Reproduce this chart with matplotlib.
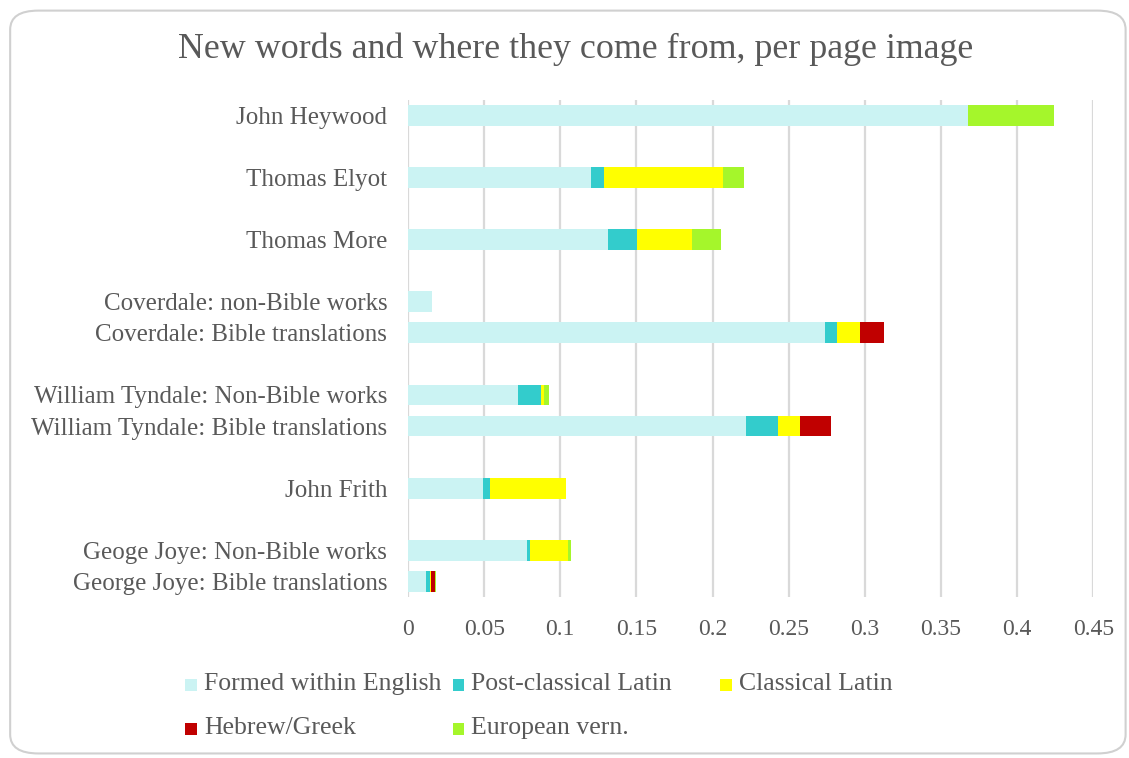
import matplotlib
matplotlib.use("Agg")
import matplotlib.pyplot as plt
from matplotlib.patches import FancyBboxPatch, Rectangle
import numpy as np

# blank entries keep the spacing between author groups
authors = [
    "John Heywood", "",
    "Thomas Elyot", "",
    "Thomas More", "",
    "Coverdale: non-Bible works", "Coverdale: Bible translations", "",
    "William Tyndale: Non-Bible works", "William Tyndale: Bible translations", "",
    "John Frith", "",
    "Geoge Joye: Non-Bible works", "George Joye: Bible translations",
]
formed_english = [0.368, 0, 0.120, 0, 0.131, 0, 0.016, 0.274, 0, 0.0723, 0.222, 0, 0.049, 0, 0.078, 0.0119]
post_classical = [0, 0, 0.0086, 0, 0.0194, 0, 0, 0.0077, 0, 0.0151, 0.021, 0, 0.005, 0, 0.0022, 0.0024]
classical_latin = [0, 0, 0.0783, 0, 0.0362, 0, 0, 0.015, 0, 0.0022, 0.0142, 0, 0.050, 0, 0.0246, 0.0007]
hebrew_greek = [0, 0, 0, 0, 0, 0, 0, 0.0161, 0, 0, 0.0204, 0, 0, 0, 0, 0.0028]
european_vern = [0.0565, 0, 0.0135, 0, 0.0188, 0, 0, 0, 0, 0.0029, 0, 0, 0, 0, 0.0024, 0.0007]

series = [
    ("Formed within English", formed_english, "#CBF3F3"),
    ("Post-classical Latin", post_classical, "#33CCCC"),
    ("Classical Latin", classical_latin, "#FFFF00"),
    ("Hebrew/Greek", hebrew_greek, "#C00000"),
    ("European vern.", european_vern, "#A5F62B"),
]

text_color = "#595959"
serif = ["Liberation Serif", "DejaVu Serif"]
plt.rcParams["font.family"] = serif

fig = plt.figure(figsize=(11.29, 7.58), dpi=100)
fig.patch.set_facecolor("white")

# rounded chart frame
frame = FancyBboxPatch((0.009, 0.006), 0.988, 0.98, transform=fig.transFigure,
                       boxstyle="round,pad=0,rounding_size=0.025",
                       facecolor="none", edgecolor="#D0D0D0", linewidth=1.5)
fig.add_artist(frame)

ax = fig.add_axes([0.3614, 0.2124, 0.607, 0.656])
y = np.arange(len(authors))
left = np.zeros(len(authors))
for name, vals, color in series:
    vals = np.array(vals)
    ax.barh(y, vals, left=left, height=0.67, color=color, label=name, zorder=3)
    left += vals

ax.set_ylim(len(authors) - 0.5, -0.5)
ax.set_xlim(0, 0.45)
ax.set_xticks(np.arange(0, 0.451, 0.05))
ax.set_xticklabels(["0", "0.05", "0.1", "0.15", "0.2", "0.25", "0.3", "0.35", "0.4", "0.45"])
ax.set_yticks(y)
ax.set_yticklabels(authors, fontsize=18)
ax.tick_params(axis="both", length=0, colors=text_color)
ax.tick_params(axis="x", pad=16, labelsize=17)
ax.tick_params(axis="y", pad=15)
ax.grid(axis="x", color="#D9D9D9", linewidth=1.6, zorder=0)
for s in ax.spines.values():
    s.set_visible(False)

fig.text(0.51, 0.935, "New words and where they come from, per page image",
         ha="center", va="center", fontsize=25.8, color=text_color)

# legend laid out on a fixed grid
for i, (name, vals, color) in enumerate(series):
    col, row = i % 3, i // 3
    x0 = 0.164 + col * 0.2369
    y0 = 0.097 - row * 0.058
    fig.add_artist(Rectangle((x0, y0 - 0.0085), 0.0105, 0.016, transform=fig.transFigure,
                             facecolor=color, edgecolor="none"))
    fig.text(x0 + 0.0165, y0, name, ha="left", va="center", fontsize=18.5, color=text_color)

fig.savefig("out.png", dpi=100, facecolor="white")
